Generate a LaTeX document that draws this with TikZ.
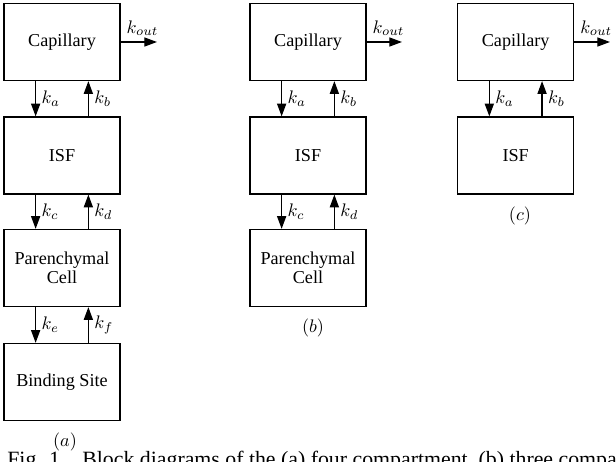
\documentclass[tikz,border=0pt]{standalone}
\usepackage{fontspec}
\setmainfont{Liberation Serif}
\usetikzlibrary{arrows.meta}
\tikzset{
  blk/.style={draw, line width=0.7pt, rectangle, minimum width=63.8pt, minimum height=42.35pt, inner sep=0pt, align=center, font=\fontsize{10}{11.5}\selectfont},
  flow/.style={line width=0.7pt, -{Triangle[length=7pt,width=5pt]}},
  klab/.style={inner sep=3pt, font=\fontsize{10}{12}\selectfont},
  sublab/.style={inner sep=0pt, font=\fontsize{10}{12}\selectfont},
  captext/.style={anchor=base west, inner sep=0pt, font=\fontsize{12}{14}\selectfont},
}
\begin{document}
\begin{tikzpicture}[x=0.55pt,y=-0.55pt]
\clip (0,0) rectangle (616,462);
\useasboundingbox (0,0) rectangle (616,462);
% ---------- (a)
\node[blk] (capA) at (62,42) {Capillary};
\node[blk] (isfA) at (62,155.5) {ISF};
\node[blk] (parA) at (62,268) {Parenchymal\\[-1pt]Cell};
\node[blk] (bindA) at (62,382) {Binding Site};
\coordinate (outA) at (157,42);
\draw[flow] (capA.east) -- (outA) node[pos=0, anchor=south west, klab] {$k_{out}$};
\draw[flow] ([xshift=-14.5pt]capA.south) -- ([xshift=-14.5pt]isfA.north) node[midway, right, klab] {$k_a$};
\draw[flow] ([xshift=14.5pt]isfA.north) -- ([xshift=14.5pt]capA.south) node[midway, right, klab] {$k_b$};
\draw[flow] ([xshift=-14.5pt]isfA.south) -- ([xshift=-14.5pt]parA.north) node[midway, right, klab] {$k_c$};
\draw[flow] ([xshift=14.5pt]parA.north) -- ([xshift=14.5pt]isfA.south) node[midway, right, klab] {$k_d$};
\draw[flow] ([xshift=-14.5pt]parA.south) -- ([xshift=-14.5pt]bindA.north) node[midway, right, klab] {$k_e$};
\draw[flow] ([xshift=14.5pt]bindA.north) -- ([xshift=14.5pt]parA.south) node[midway, right, klab] {$k_f$};
\node[sublab] (labA) at (65,441.5) {$(a)$};
% ---------- (b)
\node[blk] (capB) at (308,42) {Capillary};
\node[blk] (isfB) at (308,155.5) {ISF};
\node[blk] (parB) at (308,268) {Parenchymal\\[-1pt]Cell};
\coordinate (outB) at (402,42);
\draw[flow] (capB.east) -- (outB) node[pos=0, anchor=south west, klab] {$k_{out}$};
\draw[flow] ([xshift=-14.5pt]capB.south) -- ([xshift=-14.5pt]isfB.north) node[midway, right, klab] {$k_a$};
\draw[flow] ([xshift=14.5pt]isfB.north) -- ([xshift=14.5pt]capB.south) node[midway, right, klab] {$k_b$};
\draw[flow] ([xshift=-14.5pt]isfB.south) -- ([xshift=-14.5pt]parB.north) node[midway, right, klab] {$k_c$};
\draw[flow] ([xshift=14.5pt]parB.north) -- ([xshift=14.5pt]isfB.south) node[midway, right, klab] {$k_d$};
\node[sublab] (labB) at (313,328) {$(b)$};
% ---------- (c)
\node[blk] (capC) at (515.7,42) {Capillary};
\node[blk] (isfC) at (515.7,155.5) {ISF};
\coordinate (outC) at (610,42);
\draw[flow] (capC.east) -- (outC) node[pos=0, anchor=south west, klab] {$k_{out}$};
\draw[flow] ([xshift=-14.5pt]capC.south) -- ([xshift=-14.5pt]isfC.north) node[midway, right, klab] {$k_a$};
\draw[flow] ([xshift=14.5pt]isfC.north) -- ([xshift=14.5pt]capC.south) node[midway, right, klab] {$k_b$};
\node[sublab] (labC) at (520,216) {$(c)$};
% ---------- caption
\node[captext] (figno) at (7,467) {Fig. 1.};
\node[captext] (cap) at (82,467) {Block diagrams of the (a) four compartment, (b) three compartment, and (c) two compartment models.};
\end{tikzpicture}
\end{document}
